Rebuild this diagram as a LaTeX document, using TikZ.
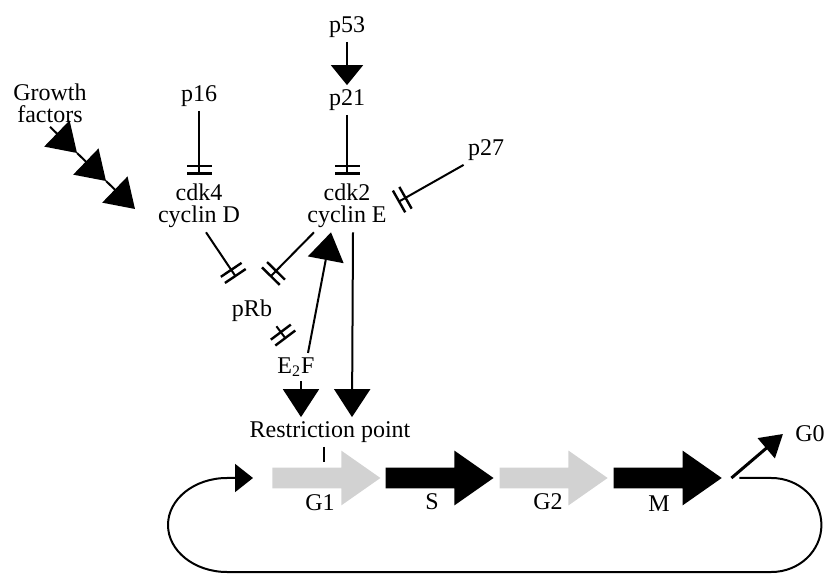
\documentclass[tikz,border=0pt]{standalone}
\usepackage{fontspec}
\setmainfont{Liberation Serif}
\usetikzlibrary{arrows.meta,positioning,shapes.arrows}
\newlength{\du}
\setlength{\du}{0.5pt}
\tikzset{
  act/.style={line width=1pt,-{Triangle[length=14pt,width=18pt]}},
  actsmall/.style={line width=1pt,-{Triangle[length=10pt,width=16pt]}},
  inh/.style={line width=1pt,-{Bar[width=12.5pt,line width=1.2pt,sep=2.5pt]Bar[width=12.5pt,line width=1.2pt]}},
  phase/.style={single arrow,draw=none,minimum height=108\du,single arrow head extend=8.5pt,
    single arrow tip angle=70,inner xsep=0pt,inner ysep=10\du,text height=0pt,text depth=0pt},
  loopline/.style={line width=1pt,-{Triangle[length=9pt,width=14pt]}},
  exit/.style={line width=1.5pt,-{Triangle[length=11pt,width=13pt]}}
}
\begin{document}
\begin{tikzpicture}[font=\fontsize{12}{11}\selectfont,inner sep=2pt]
\pgftransformxscale{1.000000}
\pgftransformyscale{-1.000000}
\useasboundingbox (0\du,0\du) rectangle (829\du,576\du);
% signals
\node (gf) at (50\du,103\du) [align=center]{Growth\\factors};
\node (p16) at (199\du,96\du){p16};
\node (p53) at (347\du,27\du){p53};
\node (p21) at (347\du,100\du){p21};
\node (p27) at (486\du,150\du){p27};
\node (cycd) at (199\du,206\du) [align=center]{cdk4\\cyclin D};
\node (cyce) at (347\du,206\du) [align=center]{cdk2\\cyclin E};
\node (prb) at (252\du,311\du){pRb};
\node (e2f) at (296\du,367\du){E\textsubscript{2}F};
\node (rp) at (330\du,432\du){Restriction point};
\coordinate (gfa) at (77\du,153\du);
\coordinate (gfb) at (106\du,181\du);
\coordinate (gfc) at (135\du,209\du);
\coordinate (rbl) at (236\du,277\du);
\coordinate (rbr) at (270\du,277\du);
\coordinate (e2fi) at (286\du,339\du);
\draw[act] (gf.south) -- (gfa);
\draw[act] (gfa) -- (gfb);
\draw[act] (gfb) -- (gfc);
\draw[inh,shorten >=5\du] (p16) -- (cycd);
\draw[actsmall] (p53) -- (p21);
\draw[inh,shorten >=5\du] (p21) -- (cyce);
\draw[inh,shorten >=8\du] (p27.south west) -- (cyce.east);
\draw[inh] ([xshift=7\du]cycd.south) -- (rbl);
\draw[inh] ([xshift=-33\du]cyce.south) -- (rbr);
\draw[inh] (prb.south east) -- (e2fi);
\draw[act] ([xshift=12\du]e2f.north) -- ([xshift=-16\du]cyce.south);
\draw[act] ([xshift=6\du]cyce.south) -- ([xshift=22\du]rp.north);
\draw[act] ([xshift=5\du]e2f.south) -- ([xshift=-29\du]rp.north);
% cell cycle
\node[phase,fill=gray!35,anchor=tail] (g1) at (272\du,478\du){};
\node[phase,fill=black,right=4\du of g1] (s){};
\node[phase,fill=gray!35,right=5\du of s] (g2){};
\node[phase,fill=black,right=5\du of g2] (m){};
\node (t1) at (320\du,503\du){G1};
\node (ts) at (432\du,502\du){S};
\node (t2) at (548\du,502\du){G2};
\node (tm) at (659\du,504\du){M};
\node (g0) at (810\du,434\du){G0};
\draw[line width=1pt] ([xshift=-6\du]rp.south) -- ++(0,15\du);
\draw[exit] ([xshift=9\du]m.tip) -- ([xshift=-8\du]g0.west);
\draw[loopline] ([xshift=17\du]m.tip) -- ++(32\du,0)
  arc[start angle=-90,end angle=90,x radius=50\du,y radius=47\du] -- (227\du,572\du)
  arc[start angle=90,end angle=270,x radius=59\du,y radius=47\du] -- ([xshift=-19\du]g1.tail);
\end{tikzpicture}
\end{document}
